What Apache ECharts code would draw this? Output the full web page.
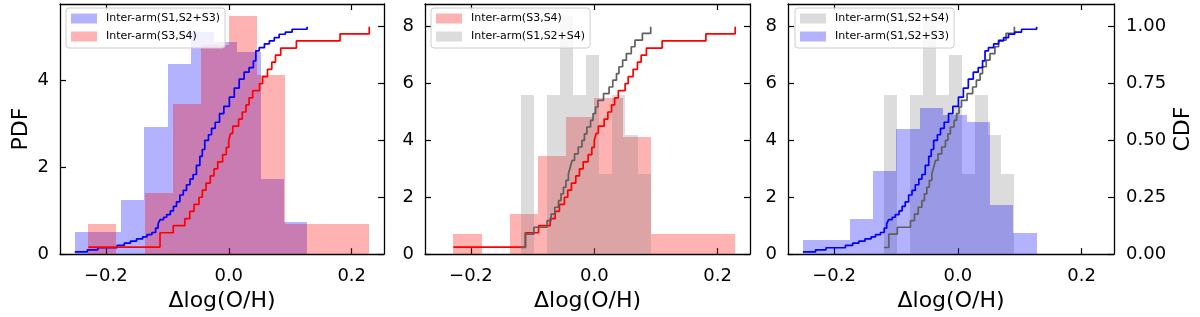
<!DOCTYPE html>
<html><head><meta charset="utf-8">
<script src="https://cdn.jsdelivr.net/npm/echarts@6/dist/echarts.min.js"></script>
<style>html,body{margin:0;padding:0;background:#fff}#c{width:1200px;height:317px}</style>
</head><body><div id="c"></div>
<script>
// ---- names ----
const nameA = 'Inter-arm(S1,S2+S3)';
const nameB = 'Inter-arm(S3,S4)';
const nameC = 'Inter-arm(S1,S2+S4)';

// ---- histogram bin edges and densities (PDF) ----
const edgesA = [-0.2505, -0.2127, -0.1749, -0.1371, -0.0993, -0.0615, -0.0237, 0.0141, 0.0519, 0.0897, 0.1275];
const pdfA   = [0.51, 0.51, 1.24, 2.93, 4.39, 5.12, 4.88, 4.65, 1.72, 0.75];
const edgesB = [-0.2284, -0.1827, -0.1370, -0.0913, -0.0456, 0.0001, 0.0458, 0.0915, 0.1372, 0.1828, 0.2285];
const pdfB   = [0.70, 0, 1.41, 3.45, 4.83, 5.49, 4.13, 0.70, 0.70, 0.70];
const edgesC = [-0.1195, -0.0984, -0.0773, -0.0562, -0.0351, -0.0140, 0.0071, 0.0282, 0.0493, 0.0704, 0.0915];
const pdfC   = [5.58, 0, 5.58, 8.37, 5.58, 6.98, 2.80, 5.58, 4.19, 2.80];

// ---- CDF step points (x where step occurs, level after step) ----
const cdfAx = [-0.2505,-0.2300,-0.2130,-0.1817,-0.1700,-0.1600,-0.1500,-0.1400,-0.1330,-0.1250,-0.1190,-0.1150,-0.1118,-0.1060,-0.1010,-0.0950,-0.0900,-0.0850,-0.0795,-0.0740,-0.0687,-0.0630,-0.0580,-0.0526,-0.0470,-0.0430,-0.0390,-0.0330,-0.0280,-0.0220,-0.0150,-0.0080,0.0010,0.0090,0.0170,0.0250,0.0330,0.0400,0.0440,0.0495,0.0580,0.0660,0.0740,0.0820,0.0920,0.1030,0.1274];
const cdfAy = [0.0095,0.019,0.028,0.038,0.048,0.057,0.067,0.076,0.086,0.095,0.114,0.133,0.152,0.162,0.174,0.19,0.21,0.23,0.26,0.28,0.305,0.33,0.35,0.39,0.43,0.46,0.50,0.525,0.553,0.58,0.618,0.65,0.69,0.73,0.77,0.80,0.82,0.85,0.894,0.908,0.925,0.938,0.952,0.967,0.976,0.989,1.0];
const cdfBx = [-0.2284,-0.1118,-0.0903,-0.0715,-0.0634,-0.0565,-0.0484,-0.043,-0.037,-0.030,-0.024,-0.018,-0.010,-0.004,0.000,0.003,0.0065,0.016,0.022,0.028,0.033,0.039,0.050,0.055,0.063,0.070,0.076,0.0845,0.110,0.181,0.2285];
const cdfBy = [0.031,0.094,0.125,0.156,0.188,0.219,0.25,0.281,0.3125,0.344,0.375,0.406,0.4375,0.469,0.50,0.531,0.5625,0.594,0.625,0.656,0.6875,0.719,0.75,0.781,0.8125,0.844,0.875,0.906,0.9375,0.969,1.0];
const cdfCx = [-0.1195,-0.1115,-0.0978,-0.0765,-0.0700,-0.0640,-0.0580,-0.0540,-0.0500,-0.0460,-0.0420,-0.0390,-0.0360,-0.0320,-0.0260,-0.0200,-0.0160,-0.0120,-0.0060,-0.0020,0.0020,0.0060,0.0150,0.0240,0.0300,0.0360,0.0400,0.0460,0.0520,0.0600,0.0660,0.0780,0.0915];
const cdfCy = [0.029,0.088,0.118,0.147,0.176,0.206,0.235,0.265,0.294,0.324,0.353,0.382,0.412,0.441,0.471,0.5,0.529,0.559,0.588,0.618,0.647,0.676,0.706,0.735,0.765,0.794,0.824,0.853,0.882,0.912,0.941,0.971,1.0];

// ---- axis ticks ----
const xTicks = [-0.2, 0.0, 0.2];
const pdfTicks1 = [0, 2, 4];
const pdfTicks23 = [0, 2, 4, 6, 8];
const cdfTicks = [0, 0.25, 0.5, 0.75, 1.0];
const xLabel = 'Δlog(O/H)';

// ---- styling ----
const FONT = 'DejaVu Sans';
const colA = 'rgba(0,0,255,0.3)', colB = 'rgba(255,0,0,0.3)', colC = 'rgba(128,128,128,0.28)';
const lineA = '#0000ff', lineB = '#ff0000', lineC = '#5f5f5f';
const XMIN = -0.2745, XMAX = 0.2525;
const grids = [
  {left: 60, top: 4, width: 324, height: 251},
  {left: 425, top: 4, width: 325, height: 251},
  {left: 788, top: 4, width: 326, height: 251}
];
const pdfMax = [5.765, 8.79, 8.79];

function histData(edges, vals) {
  return vals.map((v, i) => [edges[i], edges[i + 1], v]);
}
function cdfData(xs, ys) { return xs.map((x, i) => [x, ys[i]]); }
function fmtX(v) {
  if (Math.abs(v) < 1e-9) return '0.0';
  return (v < 0 ? '\u2212' : '') + Math.abs(v).toFixed(1);
}

const xAxes = [], yAxes = [], series = [], legends = [];
grids.forEach((g, p) => {
  const tickStyle = {show: true, inside: true, length: 6, lineStyle: {color: '#000', width: 1.2}};
  xAxes.push({
    type: 'value', gridIndex: p, position: 'bottom', min: XMIN, max: XMAX,
    axisLine: {show: true, onZero: false, lineStyle: {color: '#000', width: 1.3}},
    axisTick: Object.assign({customValues: xTicks}, tickStyle),
    axisLabel: {show: true, customValues: xTicks, formatter: fmtX, margin: 13, color: '#000', fontFamily: FONT, fontSize: 18},
    splitLine: {show: false},
    name: xLabel, nameLocation: 'middle', nameGap: 30,
    nameTextStyle: {fontFamily: FONT, fontSize: 22, color: '#000'}
  });
  xAxes.push({
    type: 'value', gridIndex: p, position: 'top', min: XMIN, max: XMAX,
    axisLine: {show: true, onZero: false, lineStyle: {color: '#000', width: 1.3}},
    axisTick: Object.assign({customValues: xTicks}, tickStyle),
    axisLabel: {show: false}, splitLine: {show: false}
  });
  const pt = p === 0 ? pdfTicks1 : pdfTicks23;
  const yl = {
    type: 'value', gridIndex: p, position: 'left', min: 0, max: pdfMax[p],
    axisLine: {show: true, onZero: false, lineStyle: {color: '#000', width: 1.3}},
    axisTick: Object.assign({customValues: pt}, tickStyle),
    axisLabel: {show: true, customValues: pt, formatter: v => String(v), margin: 11, color: '#000', fontFamily: FONT, fontSize: 18},
    splitLine: {show: false}
  };
  if (p === 0) {
    yl.name = 'PDF'; yl.nameLocation = 'middle'; yl.nameGap = 28; yl.nameRotate = 90;
    yl.nameTextStyle = {fontFamily: FONT, fontSize: 22, color: '#000'};
  }
  yAxes.push(yl);
  const yr = {
    type: 'value', gridIndex: p, position: 'right', min: 0, max: 1.1,
    axisLine: {show: true, onZero: false, lineStyle: {color: '#000', width: 1.3}},
    axisTick: Object.assign({customValues: cdfTicks}, tickStyle),
    axisLabel: {show: p === 2, customValues: cdfTicks, formatter: v => v.toFixed(2), margin: 12, color: '#000', fontFamily: FONT, fontSize: 18},
    splitLine: {show: false}
  };
  if (p === 2) {
    yr.name = 'CDF'; yr.nameLocation = 'middle'; yr.nameGap = 58; yr.nameRotate = 90;
    yr.nameTextStyle = {fontFamily: FONT, fontSize: 22, color: '#000'};
  }
  yAxes.push(yr);
});

function histSeries(name, p, edges, vals, color) {
  return {
    type: 'custom', name: name, xAxisIndex: 2 * p, yAxisIndex: 2 * p,
    itemStyle: {color: color}, z: 2,
    encode: {x: [0, 1], y: 2},
    data: histData(edges, vals),
    renderItem: function (params, api) {
      const h = api.value(2);
      if (!(h > 0)) return null;
      const a = api.coord([api.value(0), h]);
      const b = api.coord([api.value(1), 0]);
      const x0 = Math.round(a[0]), x1 = Math.round(b[0]);
      const y0 = Math.round(a[1]), y1 = Math.round(b[1]);
      return {type: 'rect', shape: {x: x0, y: y0, width: x1 - x0, height: y1 - y0}, style: {fill: color}};
    },
    silent: true
  };
}
function cdfSeries(p, xs, ys, color) {
  return {
    type: 'line', name: 'cdf' + p + color, xAxisIndex: 2 * p, yAxisIndex: 2 * p + 1,
    step: 'end', showSymbol: false, symbol: 'none', z: 5, silent: true, animation: false,
    lineStyle: {color: color, width: 1.7},
    data: cdfData(xs, ys)
  };
}

// panel 1: A (blue) + B (red)
series.push(histSeries(nameA, 0, edgesA, pdfA, colA));
series.push(histSeries(nameB, 0, edgesB, pdfB, colB));
series.push(cdfSeries(0, cdfAx, cdfAy, lineA));
series.push(cdfSeries(0, cdfBx, cdfBy, lineB));
// panel 2: B (red) + C (grey)
series.push(histSeries(nameB, 1, edgesB, pdfB, colB));
series.push(histSeries(nameC, 1, edgesC, pdfC, colC));
series.push(cdfSeries(1, cdfBx, cdfBy, lineB));
series.push(cdfSeries(1, cdfCx, cdfCy, lineC));
// panel 3: C (grey) + A (blue)
series.push(histSeries(nameC, 2, edgesC, pdfC, colC));
series.push(histSeries(nameA, 2, edgesA, pdfA, colA));
series.push(cdfSeries(2, cdfCx, cdfCy, lineC));
series.push(cdfSeries(2, cdfAx, cdfAy, lineA));

const legendBase = {
  orient: 'vertical', itemWidth: 26, itemHeight: 10, itemGap: 5, icon: 'rect', selectedMode: false,
  textStyle: {fontFamily: FONT, fontSize: 11, color: '#000', lineHeight: 13, padding: [0, 0, 0, 4]},
  backgroundColor: 'rgba(255,255,255,0.8)', borderColor: '#cccccc', borderWidth: 1, borderRadius: 3,
  padding: [4, 5, 5, 5]
};
const colorOf = {};
colorOf[nameA] = colA; colorOf[nameB] = colB; colorOf[nameC] = colC;
[[66, [nameA, nameB]], [431, [nameB, nameC]], [795, [nameC, nameA]]].forEach(([left, names]) => {
  legends.push(Object.assign({}, legendBase, {
    left: left, top: 8,
    data: names.map(n => ({name: n, itemStyle: {color: colorOf[n]}}))
  }));
});

const chart = echarts.init(document.getElementById('c'), null, {renderer: 'canvas'});
chart.setOption({
  animation: false,
  backgroundColor: '#fff',
  grid: grids,
  xAxis: xAxes,
  yAxis: yAxes,
  legend: legends,
  series: series
});
</script></body></html>
